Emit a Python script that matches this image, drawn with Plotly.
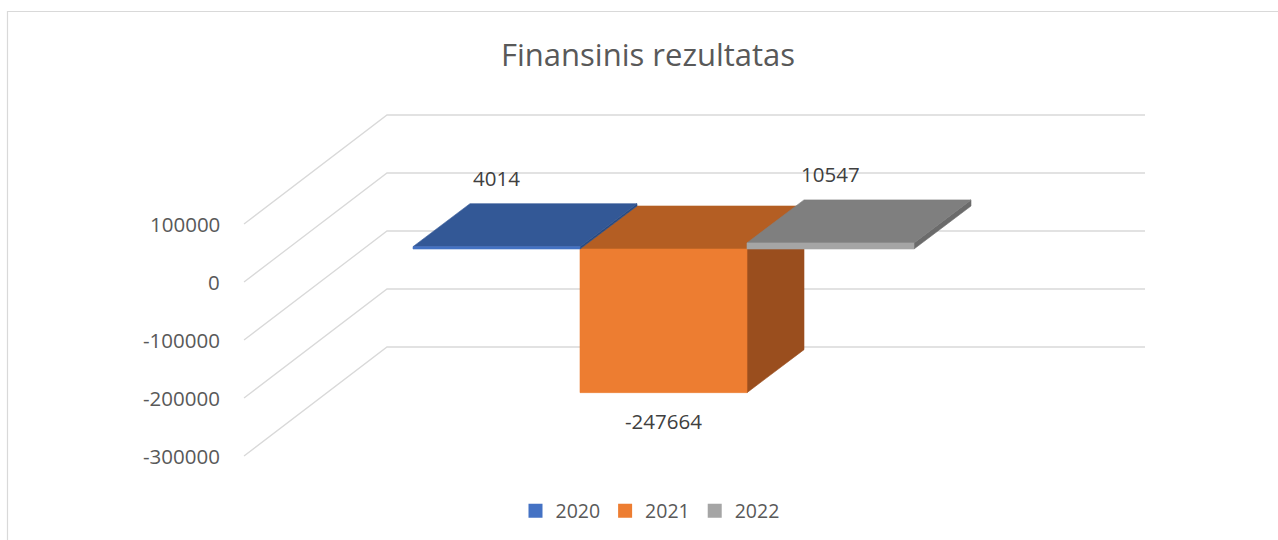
import plotly.graph_objects as go

# ---------------- data ----------------
years = ["2020", "2021", "2022"]
values = [4014, -247664, 10547]
chart_title = "Finansinis rezultatas"
tick_values = [100000, 0, -100000, -200000, -300000]
tick_labels = ["100000", "0", "-100000", "-200000", "-300000"]

front_colors = ["#4472C4", "#ED7D31", "#A5A5A5"]
top_colors = ["#335896", "#B45E23", "#7F7F7F"]
side_colors = ["#2A4A80", "#9A4E1E", "#6B6B6B"]
legend_colors = ["#4472C4", "#ED7D31", "#A5A5A5"]

# ---------------- oblique projection (styling constants) ----------------
W, H = 1278, 540
CAT_PX = 167.0                  # px per category unit
PX_PER_VAL = 58.0 / 100000.0    # px per value unit
VPP = 1.0 / PX_PER_VAL          # value units per px
ORIGIN_X_PX, ORIGIN_Y_PX = 453.5, 282.0

GRID_DX, GRID_DY = 143 / CAT_PX, 109 * VPP
GRID_X0 = (244 - ORIGIN_X_PX) / CAT_PX
GRID_X1_BACK = (1145 - ORIGIN_X_PX) / CAT_PX
BAR_SX, BAR_SY = 43 / CAT_PX, 33 * VPP
BAR_DX, BAR_DY = 57 / CAT_PX, 43 * VPP
HALF = 0.5

x_range = [-ORIGIN_X_PX / CAT_PX, (W - ORIGIN_X_PX) / CAT_PX]
y_range = [-(H - ORIGIN_Y_PX) * VPP, ORIGIN_Y_PX * VPP]

FONT = "'Open Sans', Lato, sans-serif"
fig = go.Figure()

# grid: side wall diagonals + back wall lines
for v in tick_values:
    fig.add_trace(go.Scatter(
        x=[GRID_X0, GRID_X0 + GRID_DX, GRID_X1_BACK],
        y=[v, v + GRID_DY, v + GRID_DY],
        mode="lines", line=dict(color="#D9D9D9", width=1.3),
        hoverinfo="skip", showlegend=False))


def poly(xs, ys, color):
    fig.add_trace(go.Scatter(
        x=xs + [xs[0]], y=ys + [ys[0]], mode="lines", fill="toself",
        fillcolor=color, line=dict(color=color, width=0.6),
        hoverinfo="skip", showlegend=False))


for i in [1, 0, 2]:
    v = values[i]
    xl, xr = i - HALF + BAR_SX, i + HALF + BAR_SX
    y0, y1 = BAR_SY, v + BAR_SY
    top = max(y0, y1)
    # right side
    poly([xr, xr, xr + BAR_DX, xr + BAR_DX], [y0, y1, y1 + BAR_DY, y0 + BAR_DY], side_colors[i])
    # top
    poly([xl, xr, xr + BAR_DX, xl + BAR_DX], [top, top, top + BAR_DY, top + BAR_DY], top_colors[i])
    # front
    poly([xl, xr, xr, xl], [y0, y0, y1, y1], front_colors[i])

# legend entries
for i, yr in enumerate(years):
    fig.add_trace(go.Scatter(
        x=[None], y=[None], mode="markers", name=yr,
        marker=dict(symbol="square", size=14, color=legend_colors[i]),
        showlegend=True))

annotations = []
# axis tick labels
for v, t in zip(tick_values, tick_labels):
    annotations.append(dict(
        x=GRID_X0, y=v, text=t, showarrow=False, xanchor="right", yanchor="middle",
        xshift=-22, font=dict(family=FONT, size=20.5, color="#595959")))

# data labels
for i, v in enumerate(values):
    if v >= 0:
        annotations.append(dict(
            x=i + BAR_SX, y=v + BAR_SY + BAR_DY, text=str(v), showarrow=False,
            xanchor="center", yanchor="middle", yshift=26,
            font=dict(family=FONT, size=20.5, color="#404040")))
    else:
        annotations.append(dict(
            x=i + BAR_SX, y=v + BAR_SY, text=str(v), showarrow=False,
            xanchor="center", yanchor="middle", yshift=-28,
            font=dict(family=FONT, size=20.5, color="#404040")))

annotations.append(dict(
    x=647.5 / W, y=1 - 54 / H, xref="paper", yref="paper", text=chart_title,
    showarrow=False, xanchor="center", yanchor="middle",
    font=dict(family=FONT, size=31, color="#595959")))

fig.update_layout(
    width=W, height=H,
    margin=dict(l=0, r=0, t=0, b=0),
    paper_bgcolor="white", plot_bgcolor="white",
    xaxis=dict(range=x_range, visible=False, fixedrange=True),
    yaxis=dict(range=y_range, visible=False, fixedrange=True),
    showlegend=True,
    legend=dict(orientation="h", x=650 / W, xanchor="center", y=1 - 511 / H,
                yanchor="middle", font=dict(family=FONT, size=19.5, color="#595959"),
                itemclick=False, itemdoubleclick=False, tracegroupgap=0, itemwidth=30),
    annotations=annotations,
    shapes=[dict(type="rect", xref="paper", yref="paper",
                 x0=7.5 / W, x1=1.02, y0=-0.02, y1=1 - 11.5 / H,
                 line=dict(color="#D9D9D9", width=1.2), fillcolor="rgba(0,0,0,0)")],
)

fig.write_html("out.html", config={"displayModeBar": False},
               post_script="document.body.style.margin='0';document.body.style.overflow='hidden';")
